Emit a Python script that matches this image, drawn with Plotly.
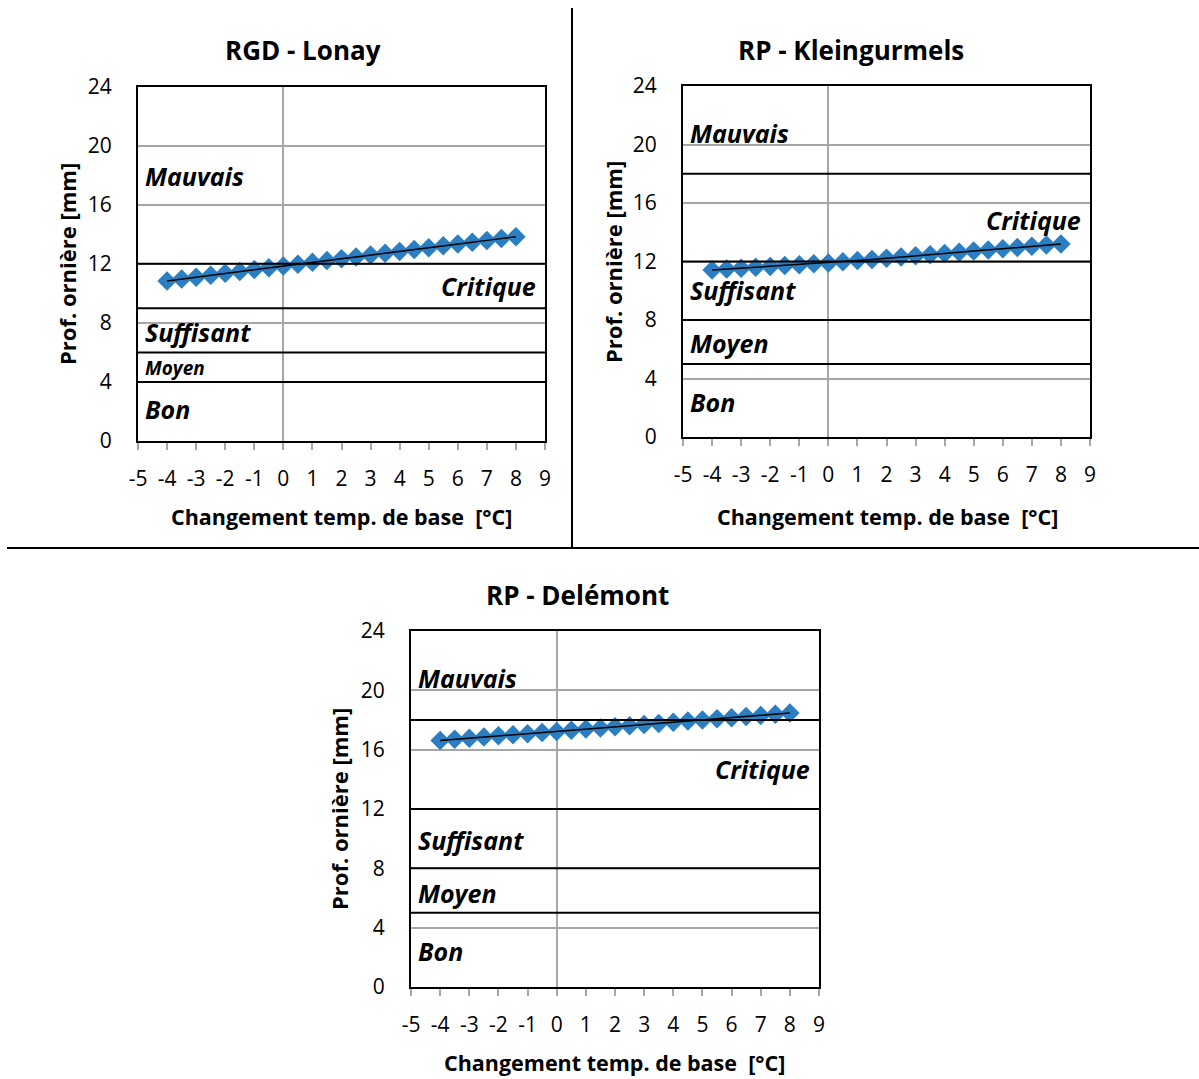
import plotly.graph_objects as go

W, H = 1199, 1079

# ---------------- data ----------------
temp_change = [-4, -3.5, -3, -2.5, -2, -1.5, -1, -0.5, 0, 0.5, 1, 1.5, 2, 2.5,
               3, 3.5, 4, 4.5, 5, 5.5, 6, 6.5, 7, 7.5, 8]

rut_lonay = [10.84, 10.97, 11.10, 11.23, 11.36, 11.49, 11.61, 11.73, 11.85,
             11.97, 12.10, 12.22, 12.35, 12.47, 12.60, 12.72, 12.84, 12.97,
             13.09, 13.22, 13.34, 13.47, 13.59, 13.72, 13.84]
rut_kleingurmels = [11.42, 11.48, 11.54, 11.60, 11.66, 11.72, 11.78, 11.84, 11.90,
                    11.98, 12.06, 12.14, 12.23, 12.31, 12.39, 12.47, 12.55, 12.63,
                    12.71, 12.79, 12.88, 12.96, 13.04, 13.12, 13.20]
rut_delemont = [16.62, 16.70, 16.77, 16.85, 16.93, 17.00, 17.08, 17.16, 17.23,
                17.31, 17.39, 17.46, 17.54, 17.62, 17.69, 17.77, 17.85, 17.93,
                18.00, 18.08, 18.16, 18.23, 18.31, 18.39, 18.47]

titles = ["RGD - Lonay", "RP - Kleingurmels", "RP - Delémont"]

# class thresholds (mm)
thresholds_lonay = [4, 6, 9, 12]
thresholds_kleingurmels = [5, 8, 12, 18]
thresholds_delemont = [5, 8, 12, 18]

class_names = ["Mauvais", "Critique", "Suffisant", "Moyen", "Bon"]
label_y_lonay = [17.95, 10.5, 7.38, 4.95, 2.17]
label_y_kleingurmels = [20.8, 14.84, 10.05, 6.43, 2.39]
label_y_delemont = [20.85, 14.7, 9.92, 6.34, 2.43]

x_ticks = list(range(-5, 10))
y_ticks = [0, 4, 8, 12, 16, 20, 24]

x_title = "Changement temp. de base  [°C]"
y_title = "Prof. ornière [mm]"

# ---------------- layout helpers ----------------
def px(x):
    return x / W

def py(y):
    return 1 - y / H

# plot areas in pixels: (left, right, top, bottom)
areas = [(138, 545, 86.7, 441), (683, 1090, 86, 437), (411, 819, 631, 987)]
title_pos = [(303, 50), (851, 50), (577, 595)]
ytitle_pos = [(67, 264), (613, 262), (339, 809)]
xtitle_pos = [(341, 516), (887, 516), (614, 1062)]

series = [rut_lonay, rut_kleingurmels, rut_delemont]
thresholds = [thresholds_lonay, thresholds_kleingurmels, thresholds_delemont]
label_ys = [label_y_lonay, label_y_kleingurmels, label_y_delemont]

FONT = "Open Sans"
BLUE = "#2B7EC1"
GRID = "#A6A6A6"

fig = go.Figure()
shapes = []
annotations = []

for i in range(3):
    sfx = "" if i == 0 else str(i + 1)
    xa, ya = "x" + sfx, "y" + sfx
    l, r, t, b = areas[i]

    fig.add_trace(go.Scatter(
        x=temp_change, y=series[i], mode="markers", xaxis=xa, yaxis=ya,
        marker=dict(symbol="diamond", size=15, color=BLUE, line=dict(width=0)),
        showlegend=False, hoverinfo="x+y"))
    fig.add_trace(go.Scatter(
        x=temp_change, y=series[i], mode="lines", xaxis=xa, yaxis=ya,
        line=dict(color="black", width=1.5), showlegend=False, hoverinfo="skip"))

    fig.layout["xaxis" + sfx] = dict(
        domain=[px(l), px(r)], anchor=ya, range=[-5, 9], automargin=False,
        tickmode="array", tickvals=x_ticks, ticktext=[str(v) for v in x_ticks],
        ticks="outside", ticklen=7, tickwidth=1.5, tickcolor=GRID,
        ticklabelstandoff=11,
        showgrid=False, zeroline=True, zerolinecolor=GRID, zerolinewidth=1.5,
        showline=True, linecolor="black", linewidth=2, mirror=True,
        tickfont=dict(family=FONT, size=21, color="black"), fixedrange=True)
    fig.layout["yaxis" + sfx] = dict(
        domain=[py(b), py(t)], anchor=xa, range=[0, 24], automargin=False,
        tickmode="array", tickvals=y_ticks, ticktext=[str(v) for v in y_ticks],
        ticks="", ticklabelstandoff=20,
        showgrid=True, gridcolor=GRID, gridwidth=1.5, zeroline=False,
        showline=True, linecolor="black", linewidth=2, mirror=True,
        tickfont=dict(family=FONT, size=21, color="black"), fixedrange=True)

    for th in thresholds[i]:
        shapes.append(dict(type="line", xref=xa, yref=ya, x0=-5, x1=9, y0=th, y1=th,
                           line=dict(color="black", width=2), layer="above"))

    for name, yv in zip(class_names, label_ys[i]):
        small = (i == 0 and name == "Moyen")
        if name == "Critique":
            annotations.append(dict(xref=xa, yref=ya, x=9, y=yv, xanchor="right", yanchor="middle",
                                    xshift=-7, showarrow=False, text="<b><i>%s</i></b>" % name,
                                    font=dict(family=FONT, size=25, color="black")))
        else:
            annotations.append(dict(xref=xa, yref=ya, x=-5, y=yv, xanchor="left", yanchor="middle",
                                    xshift=5, showarrow=False, text="<b><i>%s</i></b>" % name,
                                    font=dict(family=FONT, size=19 if small else 25, color="black")))

    tx, ty = title_pos[i]
    annotations.append(dict(xref="paper", yref="paper", x=px(tx), y=py(ty), xanchor="center",
                            yanchor="middle", showarrow=False, text="<b>%s</b>" % titles[i],
                            font=dict(family=FONT, size=26, color="black")))
    ax_, ay_ = ytitle_pos[i]
    annotations.append(dict(xref="paper", yref="paper", x=px(ax_), y=py(ay_), xanchor="center",
                            yanchor="middle", showarrow=False, textangle=-90,
                            text="<b>%s</b>" % y_title,
                            font=dict(family=FONT, size=22, color="black")))
    bx, by = xtitle_pos[i]
    annotations.append(dict(xref="paper", yref="paper", x=px(bx), y=py(by), xanchor="center",
                            yanchor="middle", showarrow=False,
                            text="<b>%s</b>" % x_title.replace("  ", "&nbsp; "),
                            font=dict(family=FONT, size=21.5, color="black")))

# separators between panels
shapes.append(dict(type="line", xref="paper", yref="paper", x0=px(572), x1=px(572),
                   y0=py(8), y1=py(548), line=dict(color="black", width=2)))
shapes.append(dict(type="line", xref="paper", yref="paper", x0=px(7), x1=px(1199),
                   y0=py(548), y1=py(548), line=dict(color="black", width=2)))

fig.update_layout(
    width=W, height=H, margin=dict(l=0, r=0, t=0, b=0, pad=0, autoexpand=False),
    paper_bgcolor="white", plot_bgcolor="white",
    shapes=shapes, annotations=annotations, showlegend=False,
    font=dict(family=FONT, color="black"))

fig.write_html("out.html", config={"displayModeBar": False},
               post_script="document.body.style.margin='0';document.body.style.overflow='hidden';")
